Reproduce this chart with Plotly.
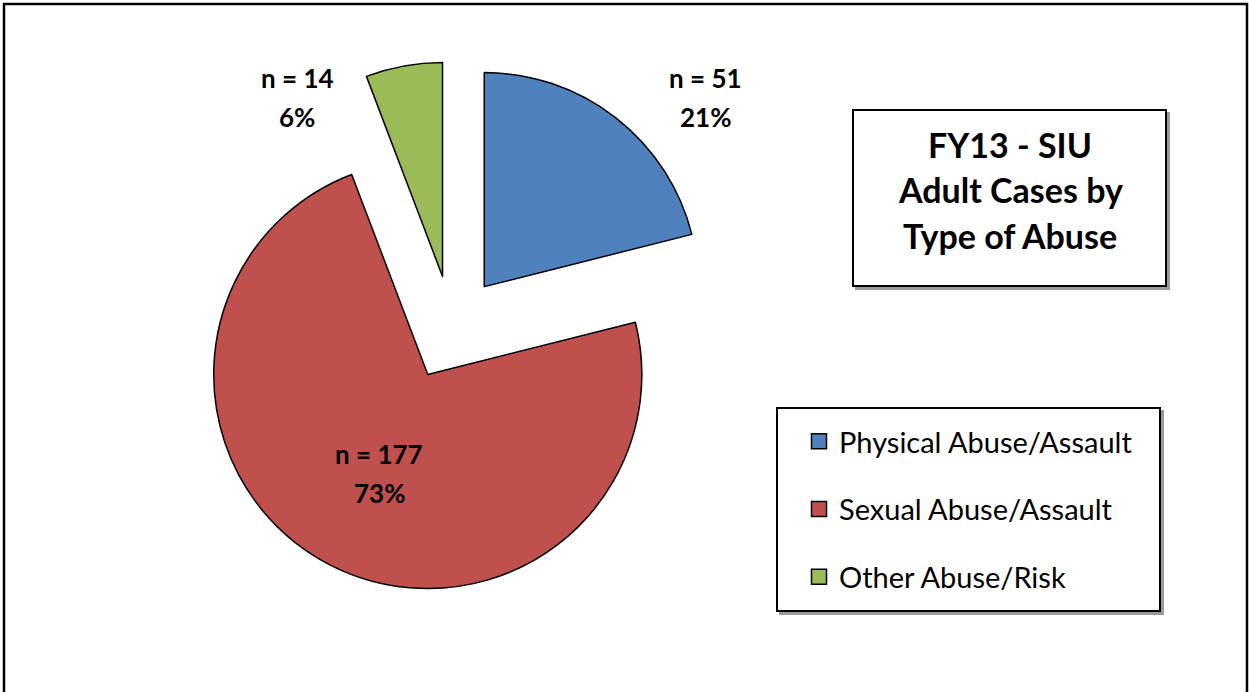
import plotly.graph_objects as go

# ---- data ----
categories = ["Physical Abuse/Assault", "Sexual Abuse/Assault", "Other Abuse/Risk"]
counts = [51, 177, 14]
colors = ["#4F81BD", "#C0504D", "#9BBB59"]
title_lines = ["FY13 - SIU", "Adult Cases by", "Type of Abuse"]

W, H = 1249, 692
FONT = "Lato"
total = sum(counts)
pcts = [round(100 * c / total) for c in counts]


def px(x):
    return x / W


def py(y):
    return 1 - y / H


fig = go.Figure()

fig.add_trace(go.Pie(
    labels=categories,
    values=counts,
    sort=False,
    direction="clockwise",
    rotation=0,
    pull=[0.245, 0.245, 0.245],
    marker=dict(colors=colors, line=dict(color="black", width=1.5)),
    textinfo="none",
    hoverinfo="label+value+percent",
    showlegend=False,
    domain=dict(x=[0.1485, 0.5753], y=[0.1409, 0.9111]),
))

# legend entries (one group each so they can be spaced like the original)
for i, (cat, col) in enumerate(zip(categories, colors)):
    fig.add_trace(go.Scatter(
        x=[None], y=[None], mode="markers", name=cat,
        legendgroup=f"g{i}",
        marker=dict(symbol="square", size=15, color=col,
                    line=dict(color="black", width=1.5)),
        hoverinfo="skip",
    ))

shapes = []
# outer chart border
shapes.append(dict(type="rect", xref="paper", yref="paper",
                   x0=px(4), x1=px(1247), y0=py(4), y1=py(720),
                   line=dict(color="black", width=2.5), fillcolor="rgba(0,0,0,0)"))


def boxed(x0, y0, x1, y1):
    return [
        dict(type="rect", xref="paper", yref="paper",
             x0=px(x0 + 3), x1=px(x1 + 3), y0=py(y0 + 3), y1=py(y1 + 3),
             line=dict(color="#9a9a9a", width=2), fillcolor="#9a9a9a", layer="below"),
        dict(type="rect", xref="paper", yref="paper",
             x0=px(x0), x1=px(x1), y0=py(y0), y1=py(y1),
             line=dict(color="black", width=2), fillcolor="white", layer="below"),
    ]


shapes += boxed(853, 110, 1166, 286)   # title box
shapes += boxed(777, 408, 1160, 611)   # legend box

annotations = []
# title lines
for j, line in enumerate(title_lines):
    annotations.append(dict(
        text=f"<b>{line}</b>", x=px(1010), y=py(145 + 45 * j),
        xref="paper", yref="paper", showarrow=False,
        xanchor="center", yanchor="middle",
        font=dict(family=FONT, size=34, color="black")))

# data labels
label_pos = [(705, 78), (379, 454), (297, 78)]
for c, p, (lx, ly) in zip(counts, pcts, label_pos):
    for k, t in enumerate([f"n = {c}", f"{p}%"]):
        annotations.append(dict(
            text=f"<b>{t}</b>", x=px(lx), y=py(ly + 39 * k),
            xref="paper", yref="paper", showarrow=False,
            xanchor="center", yanchor="middle",
            font=dict(family=FONT, size=26, color="black")))

fig.update_layout(
    width=W, height=H,
    margin=dict(l=0, r=0, t=0, b=0),
    paper_bgcolor="white", plot_bgcolor="white",
    xaxis=dict(visible=False), yaxis=dict(visible=False),
    shapes=shapes,
    annotations=annotations,
    showlegend=True,
    legend=dict(
        x=px(799), y=py(416), xanchor="left", yanchor="top",
        bgcolor="rgba(0,0,0,0)", borderwidth=0,
        font=dict(family=FONT, size=29, color="black"),
        tracegroupgap=27, traceorder="grouped",
    ),
    hovermode=False,
)

fig.write_html("out.html", config={"displayModeBar": False},
               post_script="document.body.style.margin='0px';")
